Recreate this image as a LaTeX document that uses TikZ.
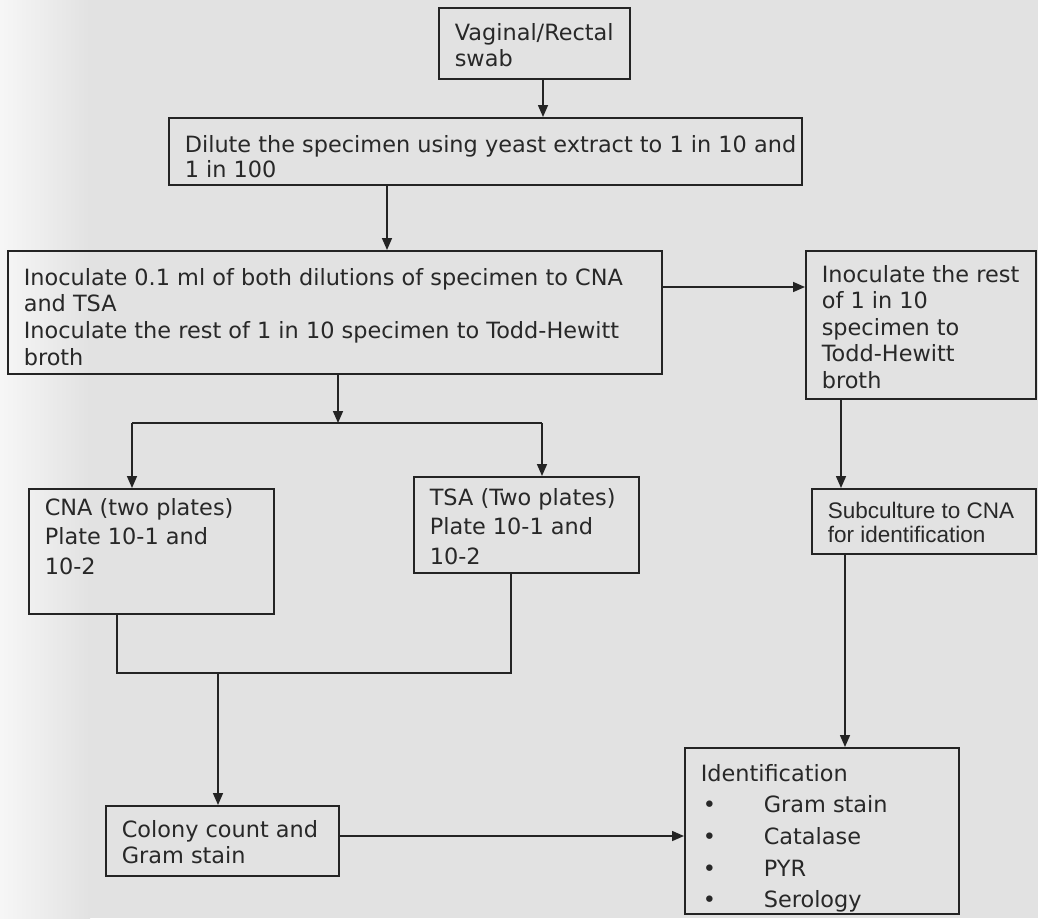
\documentclass[tikz,border=0pt]{standalone}
\usepackage{fontspec}
\setmainfont{DejaVu Sans}
\newfontfamily\arialf{Liberation Sans}
\usetikzlibrary{arrows.meta}
\definecolor{bg}{RGB}{226,226,226}
\definecolor{ink}{RGB}{36,36,36}
\definecolor{txt}{RGB}{40,40,40}
% #1 outer width, #2 outer height, #3 top gap, #4 baselineskip, #5 text
\newcommand{\bxt}[5]{\parbox[c][#2pt][t]{\dimexpr#1pt-32pt\relax}{\fontsize{22.4}{#4}\selectfont\raggedright\vspace*{#3pt}\strut #5}}
\newcommand{\bxa}[5]{\parbox[c][#2pt][t]{\dimexpr#1pt-32pt\relax}{\arialf\fontsize{22.5}{#4}\selectfont\raggedright\vspace*{#3pt}\strut #5}}
\newcommand{\itm}[1]{\\\makebox[63pt][l]{\hspace{2pt}•}#1}
\begin{document}
\begin{tikzpicture}[x=1pt,y=-1pt,
  bx/.style={draw=ink, line width=1.6pt, anchor=north west, inner xsep=16pt, inner ysep=0pt, text=txt},
  arr/.style={draw=ink, line width=1.6pt, -{Triangle[length=12pt,width=10pt]}},
  ln/.style={draw=ink, line width=1.6pt}]
\fill[bg] (0,0) rectangle (1038,918);
\shade[left color=white!70!bg, right color=bg] (0,0) rectangle (90,918);
\useasboundingbox (0,0) rectangle (1038,918);

\node[bx] (swab) at (438,7)   {\bxt{191}{71}{13.75}{26.5}{Vaginal/Rectal\\swab}};
\node[bx] (dil)  at (168,117) {\bxt{633}{67}{16.8}{25}{\mbox{Dilute the specimen using yeast extract to 1 in 10 and}\\1 in 100}};
\node[bx] (ino)  at (7,250)   {\bxt{654}{123}{15.6}{26.7}{Inoculate 0.1 ml of both dilutions of specimen to CNA\\and TSA\\Inoculate the rest of 1 in 10 specimen to Todd-Hewitt\\broth}};
\node[bx] (rest) at (805,250) {\bxt{230}{148}{12.75}{26.5}{Inoculate the rest\\of 1 in 10\\specimen to\\Todd-Hewitt\\broth}};
\node[bx] (sub)  at (811,488) {\bxa{224}{65}{13.3}{24}{Subculture to CNA\\for identification}};
\node[bx] (cna)  at (28,488)  {\bxt{245}{125}{5.65}{29.5}{CNA (two plates)\\Plate 10-1 and\\10-2}};
\node[bx] (tsa)  at (413,476) {\bxt{225}{96}{7.65}{29.5}{TSA (Two plates)\\Plate 10-1 and\\10-2}};
\node[bx] (col)  at (105,805) {\bxt{233}{70}{12.6}{26.7}{Colony count and\\Gram stain}};
\node[bx] (idf)  at (684,747) {\bxt{274}{166}{11.1}{31.7}{Identification\itm{Gram stain}\itm{Catalase}\itm{PYR}\itm{Serology}}};

\coordinate (xa) at (543,0);
\coordinate (xb) at (387,0);
\coordinate (ya) at (0,287);
\coordinate (xc) at (841,0);
\coordinate (xd) at (845,0);
\coordinate (j)  at (338,423);
\coordinate (xcna) at (132,0);
\coordinate (xtsa) at (542,0);
\coordinate (m)  at (218,673);
\coordinate (xcb) at (117,0);
\coordinate (xtb) at (511,0);
\coordinate (yc) at (0,836);

\draw[arr] (swab.south -| xa) -- (dil.north -| xa);
\draw[arr] (dil.south -| xb) -- (ino.north -| xb);
\draw[arr] (ino.east |- ya) -- (rest.west |- ya);
\draw[arr] (rest.south -| xc) -- (sub.north -| xc);
\draw[arr] (ino.south -| j) -- (j);
\draw[ln] (j -| xcna) -- (j -| xtsa);
\draw[arr] (j -| xcna) -- (cna.north -| xcna);
\draw[arr] (j -| xtsa) -- (tsa.north -| xtsa);
\draw[ln] (cna.south -| xcb) -- (m -| xcb) -- (m -| xtb) -- (tsa.south -| xtb);
\draw[arr] (m) -- (col.north -| m);
\draw[arr] (col.east |- yc) -- (idf.west |- yc);
\draw[arr] (sub.south -| xd) -- (idf.north -| xd);
\end{tikzpicture}
\end{document}
